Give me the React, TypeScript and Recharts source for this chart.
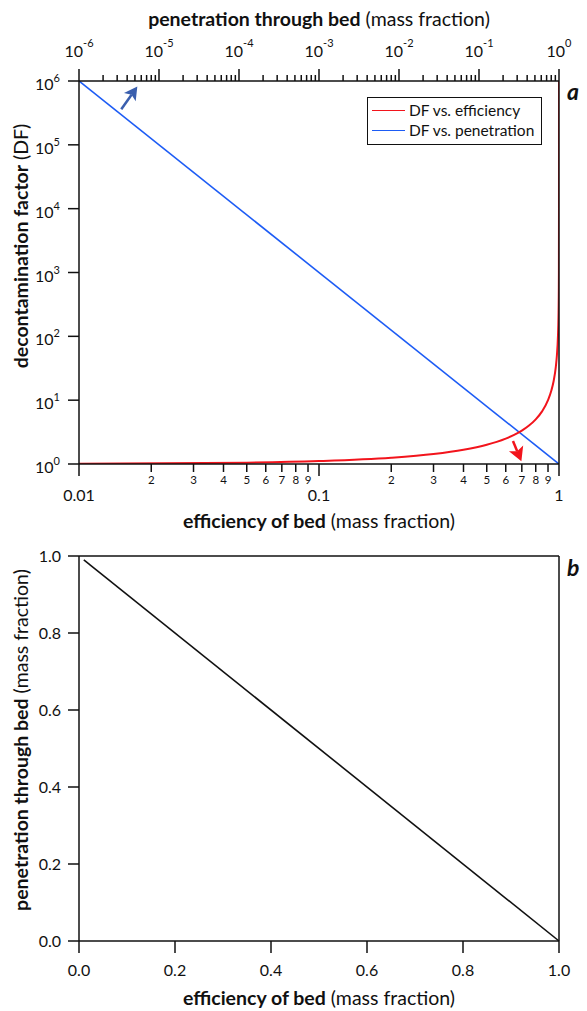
import React from "react";
import { LineChart, Line, XAxis, YAxis, Legend, Label, ReferenceLine } from "recharts";

const FONT = "Lato, 'Open Sans', sans-serif";
const RED = "#f2141c";
const BLUE = "#1d5cf5";
const ARROW_BLUE = "#3a5fae";
const INK = "#111";

// panel a, red curve: decontamination factor vs efficiency
const effValues = [0.01, 0.05, 0.1, 0.2, 0.3, 0.4, 0.5, 0.55, 0.6, 0.65, 0.7, 0.75, 0.8, 0.85, 0.9, 0.93, 0.95, 0.97, 0.98, 0.99, 0.995, 0.998, 0.999, 0.9999, 0.99999, 0.999999];
const dfFromEff = [1.01, 1.05, 1.11, 1.25, 1.43, 1.67, 2.0, 2.22, 2.5, 2.86, 3.33, 4.0, 5.0, 6.67, 10, 14.3, 20, 33.3, 50, 100, 200, 500, 1000, 1e4, 1e5, 1e6];

// panel a, blue line: decontamination factor vs penetration
const penValues = [1e-6, 1];
const dfFromPen = [1e6, 1];

// panel b: penetration vs efficiency
const effB = [0.01, 1];
const penB = [0.99, 0];

// annotation arrows (data coords on efficiency / DF axes)
const blueArrow = [{ x: 0.015, y: 3.6e5 }, { x: 0.0175, y: 8.2e5 }];
const redArrow = [{ x: 0.643, y: 2.3 }, { x: 0.697, y: 1.1 }];

const penDecades = [1e-6, 1e-5, 1e-4, 1e-3, 1e-2, 1e-1];
const effDecades = [0.01, 0.1];
const minorSteps = [1, 2, 3, 4, 5, 6, 7, 8, 9];
const dfTicks = [1, 10, 100, 1e3, 1e4, 1e5, 1e6];
const linTicks = [0, 0.2, 0.4, 0.6, 0.8, 1];

const penTicks = [...penDecades.flatMap((d) => minorSteps.map((m) => m * d)), 1];
const effTicks = [...effDecades.flatMap((d) => minorSteps.map((m) => m * d)), 1];

const redData = effValues.map((eff, i) => ({ eff, df: dfFromEff[i] }));
const blueData = penValues.map((pen, i) => ({ pen, df: dfFromPen[i] }));
const bData = effB.map((eff, i) => ({ eff, pen: penB[i] }));

const mantissa = (v: number) => Math.round(v / 10 ** Math.floor(Math.log10(v) + 1e-9));
const expOf = (v: number) => Math.round(Math.log10(v));

const tickText = { fontFamily: FONT, fontSize: 16, fill: INK };

function TopLogTick({ x, y, payload }: any) {
  const v = payload.value;
  const major = mantissa(v) === 1;
  return (
    <g>
      <line x1={x} x2={x} y1={y} y2={y - (major ? 12 : 6)} stroke={INK} strokeWidth={1.5} />
      {major && (
        <text x={x} y={y - 24} textAnchor="middle" {...tickText}>
          10<tspan dy={-10} fontSize={11}>{expOf(v)}</tspan>
        </text>
      )}
    </g>
  );
}

function LeftLogTick({ x, y, payload }: any) {
  return (
    <g>
      <line x1={x} x2={x - 11} y1={y} y2={y} stroke={INK} strokeWidth={1.5} />
      <text x={x - 19} y={y + 9} textAnchor="end" {...tickText}>
        10<tspan dy={-8} fontSize={11}>{expOf(payload.value)}</tspan>
      </text>
    </g>
  );
}

function EffTick({ x, y, payload }: any) {
  const v = payload.value;
  const m = mantissa(v);
  const major = m === 1;
  return (
    <g>
      <line x1={x} x2={x} y1={y} y2={y + (major ? 12 : 8)} stroke={INK} strokeWidth={1.5} />
      {major ? (
        <text x={x} y={y + 37} textAnchor="middle" {...tickText}>{v === 1 ? "1" : String(v)}</text>
      ) : (
        <text x={x} y={y + 20} textAnchor="middle" {...tickText} fontSize={11.5}>{m}</text>
      )}
    </g>
  );
}

function LinXTick({ x, y, payload }: any) {
  return (
    <g>
      <line x1={x} x2={x} y1={y} y2={y + 12} stroke={INK} strokeWidth={1.5} />
      <text x={x} y={y + 35} textAnchor="middle" {...tickText}>{payload.value.toFixed(1)}</text>
    </g>
  );
}

function LinYTick({ x, y, payload }: any) {
  return (
    <g>
      <line x1={x} x2={x - 11} y1={y} y2={y} stroke={INK} strokeWidth={1.5} />
      <text x={x - 18} y={y + 5.5} textAnchor="end" {...tickText}>{payload.value.toFixed(1)}</text>
    </g>
  );
}

function Title({ x, y, bold, rest, rotate }: { x: number; y: number; bold: string; rest: string; rotate?: boolean }) {
  return (
    <text
      x={x}
      y={y}
      textAnchor="middle"
      transform={rotate ? `rotate(-90 ${x} ${y})` : undefined}
      fontFamily={FONT}
      fontSize={19.5}
      fill={INK}
    >
      <tspan fontWeight={700}>{bold}</tspan>
      <tspan> {rest}</tspan>
    </text>
  );
}

const arrowShape = (color: string, head: number) => (p: any) => {
  const { x1, y1, x2, y2 } = p;
  const dx = x2 - x1;
  const dy = y2 - y1;
  const len = Math.hypot(dx, dy) || 1;
  const ux = dx / len;
  const uy = dy / len;
  const bx = x2 - ux * head;
  const by = y2 - uy * head;
  const px = -uy * head * 0.55;
  const py = ux * head * 0.55;
  return (
    <g>
      <line x1={x1} y1={y1} x2={bx + ux * 3} y2={by + uy * 3} stroke={color} strokeWidth={2.5} />
      <path d={`M${x2},${y2}L${bx + px},${by + py}L${bx + ux * 3},${by + uy * 3}L${bx - px},${by - py}Z`} fill={color} />
    </g>
  );
};

function LegendBox() {
  const row = (color: string, label: string) => (
    <div style={{ display: "flex", alignItems: "center", height: 20 }}>
      <span style={{ width: 33, height: 0, borderTop: `1.5px solid ${color}`, marginRight: 4 }} />
      <span>{label}</span>
    </div>
  );
  return (
    <div
      style={{
        border: `1.5px solid ${INK}`,
        padding: "2px 4px",
        fontFamily: FONT,
        fontSize: 15.5,
        color: INK,
        background: "#fff",
        boxSizing: "border-box",
        width: 175,
        height: 48,
        whiteSpace: "nowrap",
      }}
    >
      {row(RED, "DF vs. efficiency")}
      {row(BLUE, "DF vs. penetration")}
    </div>
  );
}

const axisLine = { stroke: INK, strokeWidth: 1.5 };
const panelLetter = { position: "absolute" as const, fontFamily: FONT, fontSize: 23, fontWeight: 700, fontStyle: "italic", color: INK };

export default function App() {
  return (
    <div style={{ position: "absolute", left: 0, top: 0, width: 587, height: 1011, background: "#fff" }}>
      <div style={{ position: "absolute", left: 0, top: 0 }}>
        <LineChart width={587} height={540} margin={{ top: 0, right: 0, bottom: 0, left: 0 }}>
          <XAxis
            xAxisId="pen"
            orientation="top"
            dataKey="pen"
            type="number"
            scale="log"
            domain={[1e-6, 1]}
            allowDataOverflow
            ticks={penTicks}
            interval={0}
            height={81}
            tickSize={0}
            tickMargin={0}
            tickLine={false}
            axisLine={axisLine}
            tick={<TopLogTick />}
          >
            <Label content={() => <Title x={319} y={26} bold="penetration through bed" rest="(mass fraction)" />} />
          </XAxis>
          <XAxis
            xAxisId="eff"
            orientation="bottom"
            dataKey="eff"
            type="number"
            scale="log"
            domain={[0.01, 1]}
            allowDataOverflow
            ticks={effTicks}
            interval={0}
            height={76}
            tickSize={0}
            tickMargin={0}
            tickLine={false}
            axisLine={axisLine}
            tick={<EffTick />}
          >
            <Label content={() => <Title x={319} y={528} bold="efficiency of bed" rest="(mass fraction)" />} />
          </XAxis>
          <YAxis
            yAxisId="df"
            type="number"
            scale="log"
            domain={[1, 1e6]}
            allowDataOverflow
            ticks={dfTicks}
            interval={0}
            width={79}
            tickSize={0}
            tickMargin={0}
            tickLine={false}
            axisLine={axisLine}
            tick={<LeftLogTick />}
          >
            <Label content={() => <Title x={28} y={246} bold="decontamination factor" rest="(DF)" rotate />} />
          </YAxis>
          <YAxis yAxisId="r" orientation="right" type="number" domain={[0, 1]} width={28} tick={false} tickLine={false} axisLine={axisLine} />
          <Legend
            layout="vertical"
            align="center"
            verticalAlign="middle"
            wrapperStyle={{ left: 367, top: 97, width: 175, height: 48 }}
            content={() => <LegendBox />}
          />
          <Line
            data={blueData}
            xAxisId="pen"
            yAxisId="df"
            dataKey="df"
            type="linear"
            stroke={BLUE}
            strokeWidth={1.6}
            dot={false}
            isAnimationActive={false}
          />
          <Line
            data={redData}
            xAxisId="eff"
            yAxisId="df"
            dataKey="df"
            type="monotone"
            stroke={RED}
            strokeWidth={2}
            dot={false}
            isAnimationActive={false}
          />
          <ReferenceLine xAxisId="eff" yAxisId="df" segment={blueArrow} ifOverflow="visible" shape={arrowShape(ARROW_BLUE, 13)} />
          <ReferenceLine xAxisId="eff" yAxisId="df" segment={redArrow} ifOverflow="visible" shape={arrowShape(RED, 14)} />
        </LineChart>
        <span style={{ ...panelLetter, left: 567, top: 77 }}>a</span>
      </div>
      <div style={{ position: "absolute", left: 0, top: 540 }}>
        <LineChart width={587} height={471} data={bData} margin={{ top: 0, right: 0, bottom: 0, left: 0 }}>
          <XAxis xAxisId="t" orientation="top" type="number" domain={[0, 1]} height={16} tick={false} tickLine={false} axisLine={axisLine} />
          <XAxis
            dataKey="eff"
            type="number"
            domain={[0, 1]}
            ticks={linTicks}
            interval={0}
            height={70}
            tickSize={0}
            tickMargin={0}
            tickLine={false}
            axisLine={axisLine}
            tick={<LinXTick />}
          >
            <Label content={() => <Title x={319} y={465} bold="efficiency of bed" rest="(mass fraction)" />} />
          </XAxis>
          <YAxis
            type="number"
            domain={[0, 1]}
            ticks={linTicks}
            interval={0}
            width={79}
            tickSize={0}
            tickMargin={0}
            tickLine={false}
            axisLine={axisLine}
            tick={<LinYTick />}
          >
            <Label content={() => <Title x={28} y={200} bold="penetration through bed" rest="(mass fraction)" rotate />} />
          </YAxis>
          <YAxis yAxisId="r" orientation="right" type="number" domain={[0, 1]} width={28} tick={false} tickLine={false} axisLine={axisLine} />
          <Line dataKey="pen" type="linear" stroke={INK} strokeWidth={1.6} dot={false} isAnimationActive={false} />
        </LineChart>
        <span style={{ ...panelLetter, left: 567, top: 13 }}>b</span>
      </div>
    </div>
  );
}
